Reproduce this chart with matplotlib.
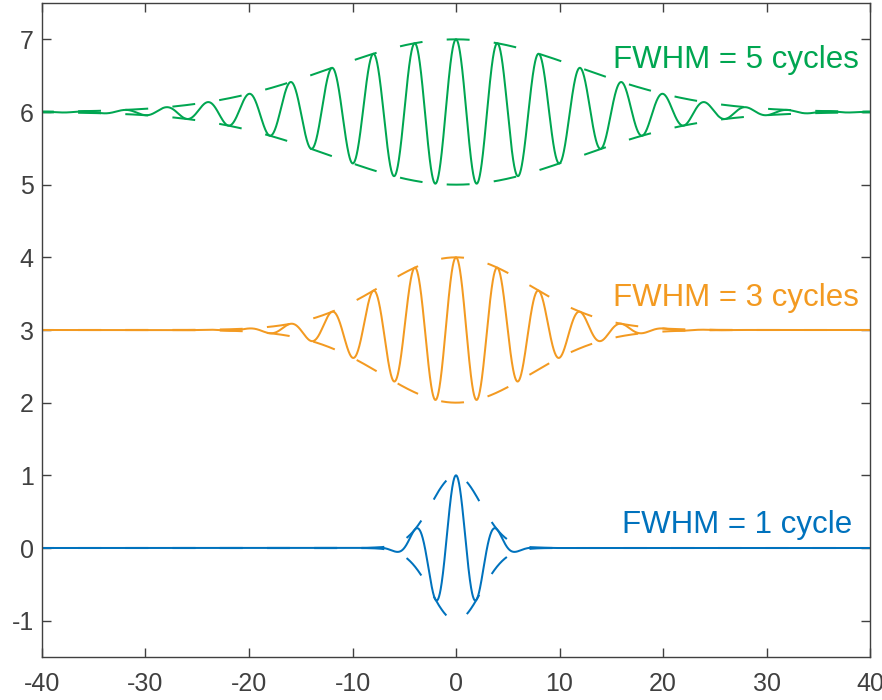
import numpy as np
import matplotlib
matplotlib.use("Agg")
import matplotlib.pyplot as plt

plt.rcParams['font.family'] = ['Liberation Sans', 'DejaVu Sans']
plt.rcParams['lines.scale_dashes'] = False
plt.rcParams['axes.unicode_minus'] = False

# ---- data (parameters) ----
period = 4.0                      # carrier period (x units)
fwhm_cycles = [1, 3, 5]           # FWHM of each pulse, in cycles
offsets = [0, 3, 6]               # vertical offset of each pulse
colors = ['#0072BD', '#F39A21', '#00A651']
labels = ['FWHM = 1 cycle', 'FWHM = 3 cycles', 'FWHM = 5 cycles']
label_x = [16.0, 15.2, 15.2]
label_y = [0.21, 3.33, 6.60]
xticks = [-40, -30, -20, -10, 0, 10, 20, 30, 40]
yticks = [-1, 0, 1, 2, 3, 4, 5, 6, 7]

x = np.linspace(-40, 40, 4001)

fig = plt.figure(figsize=(8.82, 7.0), dpi=100)
ax = fig.add_axes([42/882, 43/700, 828/882, 654/700])

for cyc, off, col in zip(fwhm_cycles, offsets, colors):
    F = cyc * period
    env = np.exp(-2*np.log(2) * x**2 / F**2)
    y = off + env * np.cos(2*np.pi*x/period)
    ax.plot(x, y, color=col, lw=1.45)
    for s in (1, -1):
        ax.plot(x, off + s*env, color=col, lw=1.45,
                linestyle=(8, (16.5, 17.5)))

for lx, ly, lab, col in zip(label_x, label_y, labels, colors):
    ax.text(lx, ly, lab, color=col, fontsize=22.5, ha='left', va='baseline')

ax.set_xlim(-40, 40)
ax.set_ylim(-1.5, 7.5)
ax.set_xticks(xticks)
ax.set_yticks(yticks)
ax.tick_params(direction='in', length=6.5, width=1.0, color='#404040',
               labelcolor='#404040', labelsize=18, top=True, right=True,
               labeltop=False, labelright=False)
ax.tick_params(axis='x', pad=10.5)
ax.tick_params(axis='y', pad=6)
for sp in ax.spines.values():
    sp.set_color('#404040')
    sp.set_linewidth(1.0)

fig.savefig('out.png', dpi=100)
